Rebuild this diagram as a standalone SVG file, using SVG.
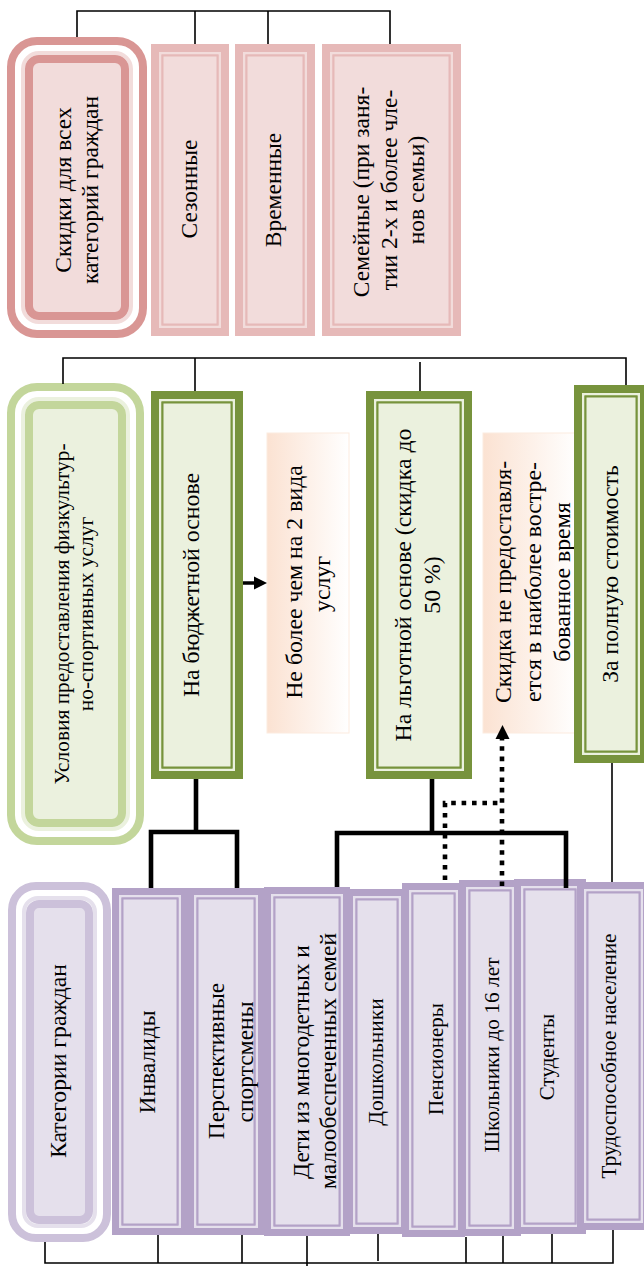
<svg xmlns="http://www.w3.org/2000/svg" width="644" height="1266" viewBox="0 0 644 1266">
<defs>
<linearGradient id="peach" x1="0" y1="0" x2="1" y2="0">
<stop offset="0" stop-color="#FBE2D2"/>
<stop offset="1" stop-color="#FFFFFF"/>
</linearGradient>
<style>
.t{font-family:"Liberation Serif","Times New Roman",serif;fill:#000;text-anchor:middle}
.ln{stroke:#000;stroke-width:1.6;fill:none}
.th{stroke:#000;stroke-width:4.6;fill:none}
.dot{stroke:#000;stroke-width:4.6;stroke-dasharray:4.6 5.8;fill:none}
.pB{fill:#E6B9B8}.pL{fill:none;stroke:#F2DCDB;stroke-width:2.5}.pI{fill:#F2DCDB;stroke:#E6B9B8;stroke-width:2}
.gB{fill:#77933C}.gL{fill:none;stroke:#EBF1DE;stroke-width:2.5}.gI{fill:#EBF1DE;stroke:#77933C;stroke-width:2}
.vB{fill:#B3A2C7}.vL{fill:none;stroke:#E5E0EC;stroke-width:2.5}.vI{fill:#E5E0EC;stroke:#B3A2C7;stroke-width:2}
</style>
</defs>

<!-- Pink section -->
<g id="node-skidki">
<rect x="11" y="41" width="132" height="293" rx="26" fill="#fff" stroke="#D99694" stroke-width="8"/>
<rect x="23" y="53" width="108" height="269" rx="16" fill="none" stroke="#F2DCDB" stroke-width="4"/>
<rect x="29" y="59" width="96" height="257" rx="10" fill="#F2DCDB" stroke="#D99694" stroke-width="8"/>
<text class="t" font-size="23.5" transform="rotate(-90)"><tspan x="-190" y="71">Скидки для всех</tspan><tspan x="-190" y="98">категорий граждан</tspan></text>
</g>
<g id="node-sezonnye">
<rect class="pB" x="151" y="44" width="78" height="292"/>
<rect class="pL" x="160.25" y="53.25" width="59.5" height="273.5"/>
<rect class="pI" x="162.5" y="55.5" width="55" height="269"/>
<text class="t" font-size="23.5" transform="rotate(-90)" x="-189" y="197">Сезонные</text>
</g>
<g id="node-vremennye">
<rect class="pB" x="235" y="44" width="80" height="292"/>
<rect class="pL" x="244.25" y="53.25" width="61.5" height="273.5"/>
<rect class="pI" x="246.5" y="55.5" width="57" height="269"/>
<text class="t" font-size="23.5" transform="rotate(-90)" x="-190" y="281">Временные</text>
</g>
<g id="node-semeinye">
<rect class="pB" x="322" y="44" width="139" height="292"/>
<rect class="pL" x="331.25" y="53.25" width="120.5" height="273.5"/>
<rect class="pI" x="333.5" y="55.5" width="116" height="269"/>
<text class="t" font-size="23.5" transform="rotate(-90)"><tspan x="-192" y="369">Семейные (при заня-</tspan><tspan x="-190" y="397">тии 2-х и более чле-</tspan><tspan x="-190" y="424">нов семьи)</tspan></text>
</g>

<!-- Green section -->
<g id="node-usloviya">
<rect x="11" y="387" width="129" height="454" rx="26" fill="#fff" stroke="#C3D69B" stroke-width="8"/>
<rect x="23" y="399" width="105" height="430" rx="16" fill="none" stroke="#EBF1DE" stroke-width="4"/>
<rect x="29" y="405" width="93" height="418" rx="10" fill="#EBF1DE" stroke="#C3D69B" stroke-width="8"/>
<text class="t" font-size="21.4" transform="rotate(-90)"><tspan x="-614" y="69">Условия предоставления физкультур-</tspan><tspan x="-614" y="93">но-спортивных услуг</tspan></text>
</g>
<g id="node-byudzhet">
<rect class="gB" x="151" y="391" width="92" height="388"/>
<rect class="gL" x="160.25" y="400.25" width="73.5" height="369.5"/>
<rect class="gI" x="162.5" y="402.5" width="69" height="365"/>
<text class="t" font-size="23.8" transform="rotate(-90)" x="-585" y="199">На бюджетной основе</text>
</g>
<g id="node-ne-bolee">
<rect x="267" y="433" width="82" height="300" fill="url(#peach)" stroke="#FCEBDF" stroke-width="1"/>
<text class="t" font-size="23.8" transform="rotate(-90)"><tspan x="-582" y="302">Не более чем на 2 вида</tspan><tspan x="-584" y="330">услуг</tspan></text>
</g>
<g id="node-lgotnoi">
<rect class="gB" x="366" y="391" width="106" height="388"/>
<rect class="gL" x="375.25" y="400.25" width="87.5" height="369.5"/>
<rect class="gI" x="377.5" y="402.5" width="83" height="365"/>
<text class="t" font-size="23.8" transform="rotate(-90)"><tspan x="-585" y="411">На льготной основе (скидка до</tspan><tspan x="-585" y="440">50 %)</tspan></text>
</g>
<g id="node-skidka-ne">
<rect x="483" y="433" width="95" height="300" fill="url(#peach)" stroke="#FCEBDF" stroke-width="1"/>
<text class="t" font-size="23.8" transform="rotate(-90)"><tspan x="-582" y="511">Скидка не предоставля-</tspan><tspan x="-582" y="541">ется в наиболее востре-</tspan><tspan x="-582" y="570">бованное время</tspan></text>
</g>
<g id="node-polnuyu">
<rect class="gB" x="574" y="385" width="74" height="378"/>
<rect class="gL" x="583.25" y="394.25" width="55.5" height="359.5"/>
<rect class="gI" x="585.5" y="396.5" width="51" height="355"/>
<text class="t" font-size="23.8" transform="rotate(-90)" x="-574" y="618">За полную стоимость</text>
</g>

<!-- Purple section -->
<g id="node-kategorii">
<rect x="12" y="886" width="95" height="352" rx="24" fill="#fff" stroke="#CCC1DA" stroke-width="8"/>
<rect x="24" y="898" width="71" height="328" rx="14" fill="none" stroke="#E5E0EC" stroke-width="4"/>
<rect x="30" y="904" width="59" height="316" rx="9" fill="#E5E0EC" stroke="#CCC1DA" stroke-width="8"/>
<text class="t" font-size="23.7" transform="rotate(-90)" x="-1061" y="66">Категории граждан</text>
</g>
<g id="node-invalidy">
<rect class="vB" x="112" y="888" width="76" height="347"/>
<rect class="vL" x="120.25" y="896.25" width="59.5" height="330.5"/>
<rect class="vI" x="122.5" y="898.5" width="55" height="326"/>
<text class="t" font-size="23.5" transform="rotate(-90)" x="-1062" y="155">Инвалиды</text>
</g>
<g id="node-perspektivnye">
<rect class="vB" x="187" y="888" width="78" height="347"/>
<rect class="vL" x="195.25" y="896.25" width="61.5" height="330.5"/>
<rect class="vI" x="197.5" y="898.5" width="57" height="326"/>
<text class="t" font-size="23.5" transform="rotate(-90)"><tspan x="-1061" y="224">Перспективные</tspan><tspan x="-1062" y="253">спортсмены</tspan></text>
</g>
<g id="node-deti">
<rect class="vB" x="264" y="887" width="86" height="349"/>
<rect class="vL" x="272.25" y="895.25" width="69.5" height="332.5"/>
<rect class="vI" x="274.5" y="897.5" width="65" height="328"/>
<text class="t" font-size="23.5" transform="rotate(-90)"><tspan x="-1062" y="309">Дети из многодетных и</tspan><tspan x="-1061" y="336">малообеспеченных семей</tspan></text>
</g>
<g id="node-doshkolniki">
<rect class="vB" x="346" y="889" width="62" height="345"/>
<rect class="vL" x="354.25" y="897.25" width="45.5" height="328.5"/>
<rect class="vI" x="356.5" y="899.5" width="41" height="324"/>
<text class="t" font-size="21.5" transform="rotate(-90)" x="-1062" y="383">Дошкольники</text>
</g>
<g id="node-pensionery">
<rect class="vB" x="402" y="883" width="63" height="354"/>
<rect class="vL" x="410.25" y="891.25" width="46.5" height="337.5"/>
<rect class="vI" x="412.5" y="893.5" width="42" height="333"/>
<text class="t" font-size="21" transform="rotate(-90)" x="-1059" y="443">Пенсионеры</text>
</g>
<g id="node-shkolniki">
<rect class="vB" x="459" y="880" width="62" height="356"/>
<rect class="vL" x="467.25" y="888.25" width="45.5" height="339.5"/>
<rect class="vI" x="469.5" y="890.5" width="41" height="335"/>
<text class="t" font-size="21.4" transform="rotate(-90)" x="-1055" y="499">Школьники до 16 лет</text>
</g>
<g id="node-studenty">
<rect class="vB" x="514" y="879" width="72" height="355"/>
<rect class="vL" x="522.25" y="887.25" width="55.5" height="338.5"/>
<rect class="vI" x="524.5" y="889.5" width="51" height="334"/>
<text class="t" font-size="21" transform="rotate(-90)" x="-1057" y="554">Студенты</text>
</g>
<g id="node-trudosposobnoe">
<rect class="vB" x="577" y="882" width="73" height="348"/>
<rect class="vL" x="585.25" y="890.25" width="56.5" height="331.5"/>
<rect class="vI" x="587.5" y="892.5" width="52" height="327"/>
<text class="t" font-size="21.2" transform="rotate(-90)" x="-1056" y="616">Трудоспособное население</text>
</g>

<!-- Connectors -->
<g id="connectors">
<path class="ln" d="M77,37 V11 H390 V44 M195,11 V44 M268,11 V44"/>
<path class="ln" d="M63,384 V358 H626 V385 M195,358 V391 M420,362 V391"/>
<path class="ln" d="M612,763 V882"/>
<path class="ln" d="M45,1242 V1263 H613 V1230 M158,1235 V1263 M242,1235 V1263 M307,1236 V1266 M378,1234 V1261 M466,1237 V1263 M503,1236 V1263 M552,1234 V1263"/>
<path class="th" d="M196,779 V832 M151,888 V832 H237 V888"/>
<path class="th" d="M432,779 V833 M337,887 V833 H566 V888"/>
<path d="M243,583 H255" stroke="#000" stroke-width="3.5"/>
<polygon points="254,576.5 267,583 254,589.5" fill="#000"/>
<path class="dot" d="M445,880 V803 H502"/>
<path class="dot" d="M502,886 V738"/>
<polygon points="495.5,739 502.5,725 509.5,739" fill="#000"/>
</g>
</svg>
